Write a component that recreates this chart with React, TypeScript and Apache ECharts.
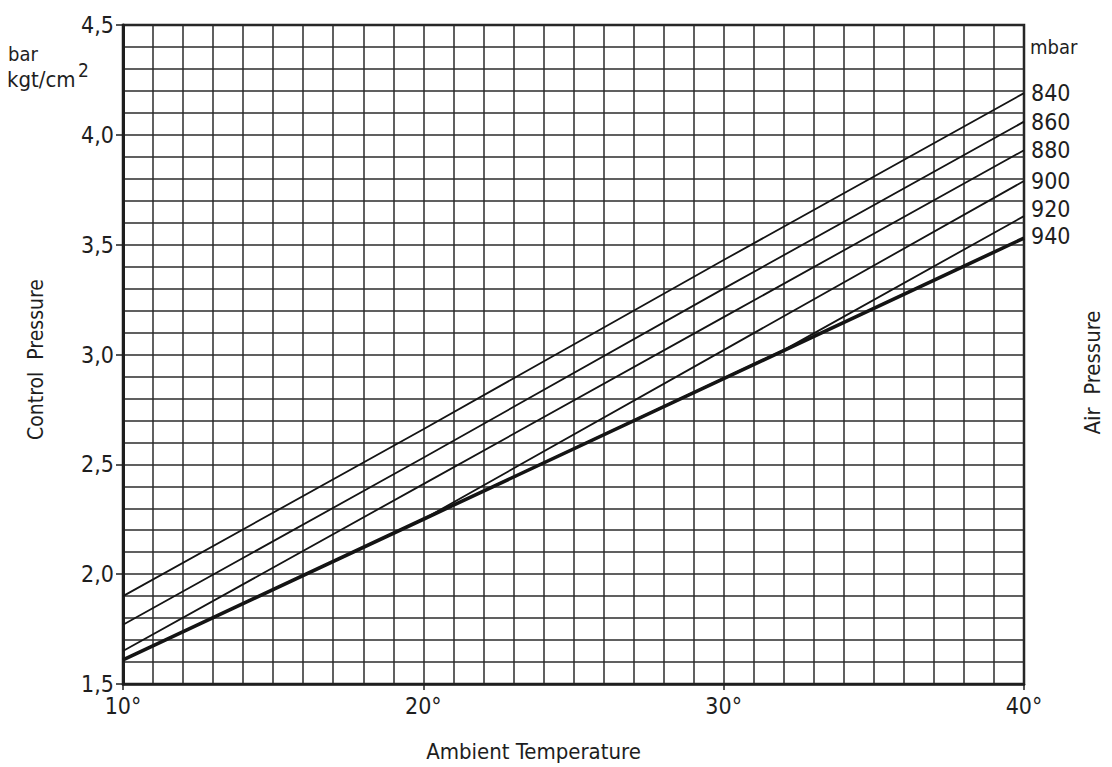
import React, { useEffect, useRef } from "react";
import * as echarts from "echarts";

// Ambient temperature axis (°)
const xMin = 10;
const xMax = 40;
const xTickLabels = ["10°", "20°", "30°", "40°"];

// Control pressure axis (bar)
const yMin = 1.5;
const yMax = 4.5;
const yTickLabels = ["1,5", "2,0", "2,5", "3,0", "3,5", "4,0", "4,5"];

// Air pressure curves (mbar) : [temperature, control pressure]
const airPressures = ["840", "860", "880", "900", "920", "940"];
const p840 = [[10, 1.9], [20, 2.66], [30, 3.43], [40, 4.19]];
const p860 = [[10, 1.77], [20, 2.53], [30, 3.3], [40, 4.06]];
const p880 = [[10, 1.65], [20, 2.41], [30, 3.17], [40, 3.93]];
const p900 = [[10, 1.61], [20, 2.25], [30, 3.02], [40, 3.79]];
const p920 = [[10, 1.61], [20, 2.25], [32, 3.02], [40, 3.63]];
const p940 = [[10, 1.61], [20, 2.25], [30, 2.89], [40, 3.53]];
const curves = [p840, p860, p880, p900, p920, p940];
const labelShift = [0, 0, 0, 0, -7, -2];

const FONT = "'DejaVu Sans Condensed', 'Liberation Sans Narrow', 'DejaVu Sans', sans-serif";
const INK = "#1e1e1e";
const GRIDC = "#2b2b2b";

export default function App() {
  const ref = useRef<HTMLDivElement>(null);
  useEffect(() => {
    if (!ref.current) return;
    const chart = echarts.init(ref.current, undefined, { renderer: "svg" });
    const gridLine = { show: true, lineStyle: { color: GRIDC, width: 1.5 } };
    chart.setOption({
      animation: false,
      backgroundColor: "#ffffff",
      textStyle: { fontFamily: FONT, color: INK },
      grid: {
        left: 123,
        right: 88,
        top: 25,
        bottom: 73,
        show: true,
        borderColor: INK,
        borderWidth: 2.5,
        backgroundColor: "transparent",
      },
      xAxis: {
        type: "value",
        min: xMin,
        max: xMax,
        interval: 10,
        name: "Ambient Temperature",
        nameLocation: "middle",
        nameGap: 56,
        nameTextStyle: { fontSize: 22, fontFamily: FONT, color: INK, padding: [0, 80, 0, 0] },
        axisLine: { show: true, lineStyle: { color: INK, width: 2.5 } },
        axisTick: { show: true, length: 6, inside: false, lineStyle: { color: INK, width: 1.5 } },
        axisLabel: {
          fontSize: 23,
          fontFamily: FONT,
          color: INK,
          margin: 10,
          formatter: (v: number) => xTickLabels[Math.round((v - xMin) / 10)] ?? "",
        },
        splitLine: gridLine,
        minorTick: { show: false, splitNumber: 10 },
        minorSplitLine: gridLine,
      },
      yAxis: [
        {
          type: "value",
          min: yMin,
          max: yMax,
          interval: 0.5,
          name: "Control  Pressure",
          nameLocation: "middle",
          nameRotate: 90,
          nameGap: 77,
          nameTextStyle: { fontSize: 21, fontFamily: FONT, color: INK, padding: [0, 10, 0, 0] },
          axisLine: { show: true, lineStyle: { color: INK, width: 3 } },
          axisTick: { show: true, length: 7, inside: false, lineStyle: { color: INK, width: 1.5 } },
          axisLabel: {
            fontSize: 23,
            fontFamily: FONT,
            color: INK,
            margin: 9,
            formatter: (v: number) => yTickLabels[Math.round((v - yMin) / 0.5)] ?? "",
          },
          splitLine: gridLine,
          minorTick: { show: false, splitNumber: 5 },
          minorSplitLine: gridLine,
        },
        {
          type: "value",
          position: "right",
          min: yMin,
          max: yMax,
          interval: 0.5,
          name: "Air  Pressure",
          nameLocation: "middle",
          nameRotate: 90,
          nameGap: 57,
          nameTextStyle: { fontSize: 22, fontFamily: FONT, color: INK, padding: [0, 36, 0, 0] },
          axisLine: { show: false },
          axisTick: { show: false },
          axisLabel: { show: false },
          splitLine: { show: false },
        },
      ],
      graphic: [
        { type: "text", x: 8, y: 54, style: { text: "bar", fontSize: 20, fontFamily: FONT, fill: INK, align: "left", verticalAlign: "middle" } },
        { type: "text", x: 7, y: 79, style: { text: "kgt/cm", fontSize: 22, fontFamily: FONT, fill: INK, align: "left", verticalAlign: "middle" } },
        { type: "text", x: 78, y: 70, style: { text: "2", fontSize: 19, fontFamily: FONT, fill: INK, align: "left", verticalAlign: "middle" } },
        { type: "text", x: 1030, y: 47, style: { text: "mbar", fontSize: 20, fontFamily: FONT, fill: INK, align: "left", verticalAlign: "middle" } },
      ],
      series: curves.map((data, i) => ({
        type: "line",
        name: airPressures[i],
        data,
        showSymbol: false,
        symbol: "none",
        z: i === 5 ? 4 : 3,
        lineStyle: { color: "#141414", width: i === 5 ? 3.6 : 1.8 },
        endLabel: {
          show: true,
          formatter: "{a}",
          fontSize: 23,
          fontFamily: FONT,
          color: INK,
          distance: 7,
          offset: [0, labelShift[i]],
        },
      })),
    });
    return () => chart.dispose();
  }, []);
  return (
    <div
      ref={ref}
      style={{ position: "fixed", left: 0, top: 0, width: 1112, height: 767, background: "#fff" }}
    />
  );
}
